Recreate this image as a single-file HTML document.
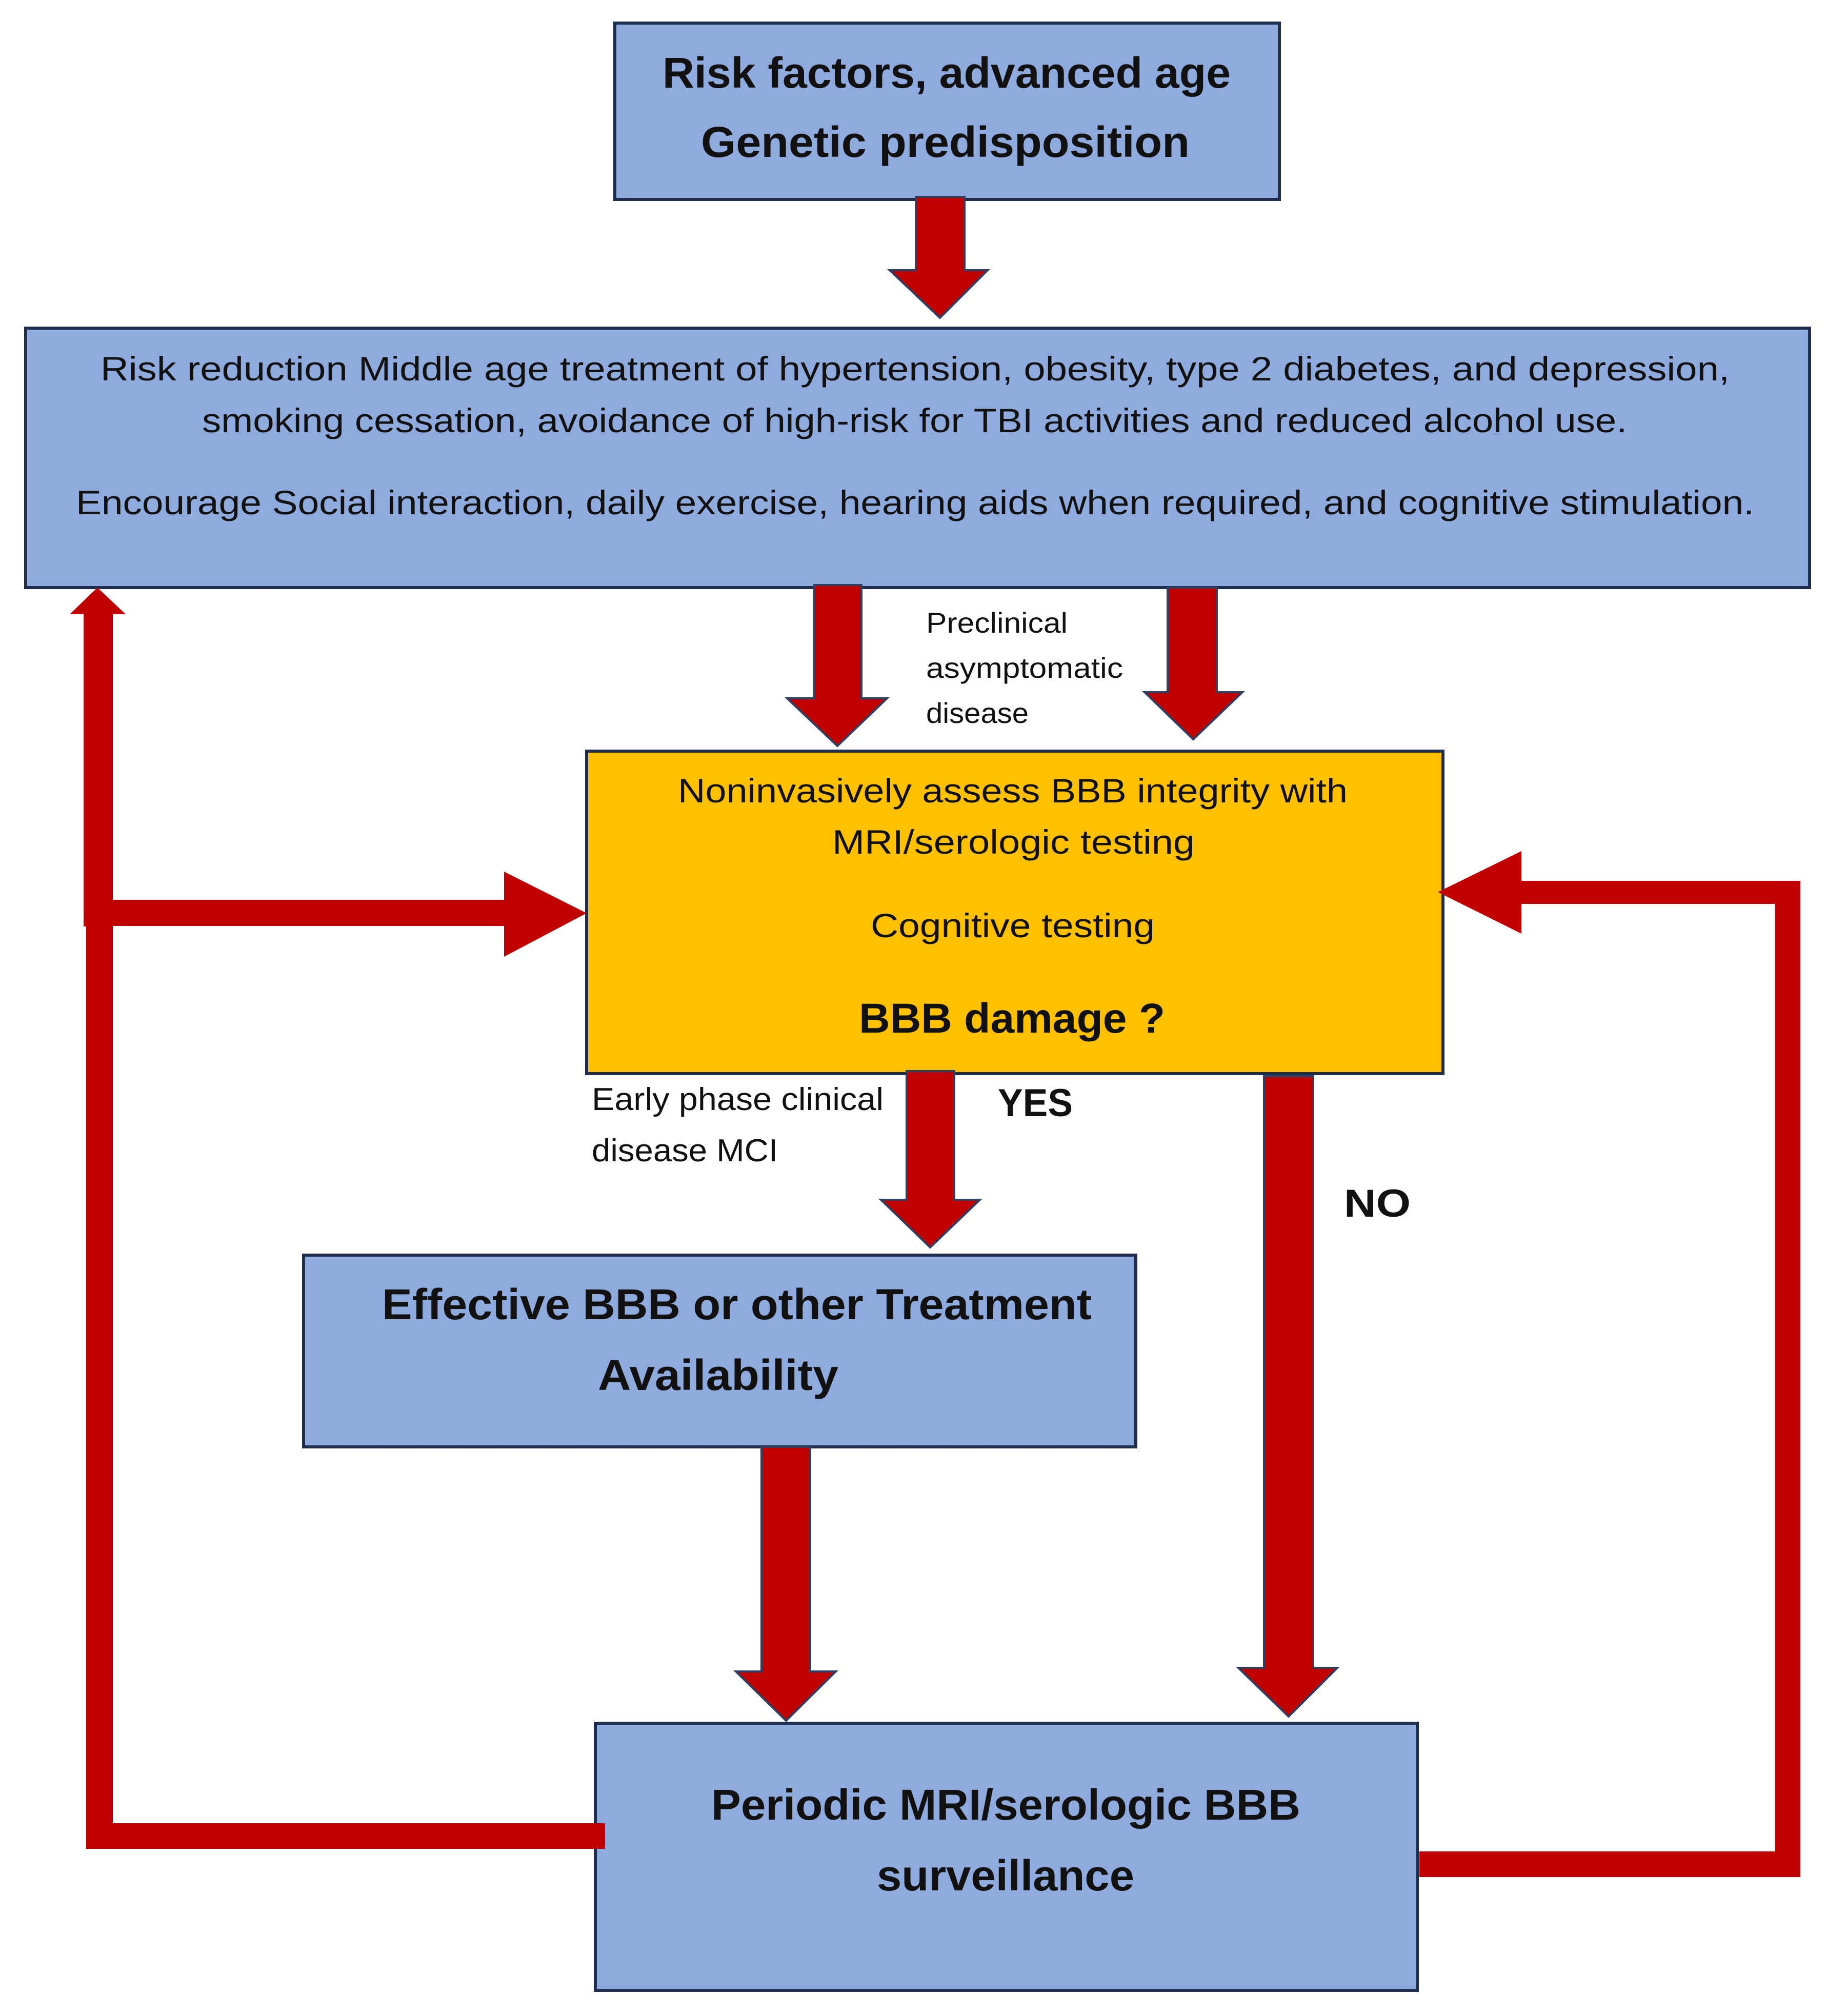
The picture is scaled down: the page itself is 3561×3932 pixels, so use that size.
<!DOCTYPE html>
<html><head><meta charset="utf-8"><style>html,body{margin:0;padding:0;background:#fff}svg{display:block}</style></head>
<body>
<svg width="3561" height="3932" viewBox="0 0 3561 3932" xmlns="http://www.w3.org/2000/svg" font-family="'Liberation Sans', sans-serif" fill="#111">
<rect width="3561" height="3932" fill="#fff"/>
<!-- Boxes -->
<rect x="1199" y="45" width="1296" height="344" fill="#8FAADC" stroke="#1F2D4F" stroke-width="6"/>
<rect x="50" y="640" width="3479" height="506" fill="#8FAADC" stroke="#1F2D4F" stroke-width="6"/>
<rect x="1144" y="1465" width="1670" height="629" fill="#FFC000" stroke="#1F2D4F" stroke-width="6"/>
<rect x="592" y="2448" width="1623" height="374" fill="#8FAADC" stroke="#1F2D4F" stroke-width="6"/>
<rect x="1161" y="3361" width="1603" height="521" fill="#8FAADC" stroke="#1F2D4F" stroke-width="6"/>

<!-- Block arrows -->
<g fill="#C00000" stroke="#2F3F5F" stroke-width="4">
<polygon points="1786,384 1881,384 1881,527 1926,527 1833,620 1735,527 1786,527"/>
<polygon points="1588,1141 1680,1141 1680,1362 1730,1362 1633,1455 1535,1362 1588,1362"/>
<polygon points="2277,1146 2373,1146 2373,1350 2423,1350 2327,1442 2232,1350 2277,1350"/>
<polygon points="1768,2089 1861,2089 1861,2340 1911,2340 1814,2433 1718,2340 1768,2340"/>
<polygon points="1485,2822 1580,2822 1580,3260 1630,3260 1533,3356 1435,3260 1485,3260"/>
<polygon points="2465,2099 2561,2099 2561,3253 2608,3253 2513,3348 2415,3253 2465,3253"/>
</g>

<!-- Left loop -->
<g fill="#C00000">
<rect x="168" y="3556" width="1012" height="50"/>
<rect x="168" y="1755" width="52" height="1851"/>
<rect x="163" y="1195" width="57" height="612"/>
<polygon points="136,1198 245,1198 190,1146"/>
<rect x="163" y="1755" width="822" height="51"/>
<polygon points="983,1700 1144,1781 983,1866"/>
</g>
<!-- Right loop -->
<g fill="#C00000">
<rect x="2768" y="3611" width="743" height="50"/>
<rect x="3461" y="1718" width="50" height="1943"/>
<rect x="2960" y="1718" width="551" height="45"/>
<polygon points="2967,1660 2967,1821 2804,1740"/>
</g>

<!-- Text -->
<g font-weight="bold" font-size="84">
<text x="1292" y="171" textLength="1108" lengthAdjust="spacingAndGlyphs">Risk factors, advanced age</text>
<text x="1367" y="306" textLength="953" lengthAdjust="spacingAndGlyphs">Genetic predisposition</text>
</g>
<g font-size="66">
<text x="196" y="742" textLength="3177" lengthAdjust="spacingAndGlyphs">Risk reduction  Middle age treatment of hypertension, obesity, type 2 diabetes, and depression,</text>
<text x="394" y="843" textLength="2779" lengthAdjust="spacingAndGlyphs">smoking cessation, avoidance of high-risk for TBI activities and reduced alcohol use.</text>
<text x="148" y="1003" textLength="3273" lengthAdjust="spacingAndGlyphs">Encourage Social interaction, daily exercise, hearing aids when required, and cognitive stimulation.</text>
</g>
<g font-size="56">
<text x="1806" y="1234" textLength="276" lengthAdjust="spacingAndGlyphs">Preclinical</text>
<text x="1806" y="1322" textLength="384" lengthAdjust="spacingAndGlyphs">asymptomatic</text>
<text x="1806" y="1410" textLength="200" lengthAdjust="spacingAndGlyphs">disease</text>
</g>
<g font-size="66">
<text x="1322" y="1565" textLength="1306" lengthAdjust="spacingAndGlyphs">Noninvasively assess BBB integrity with</text>
<text x="1623" y="1665" textLength="707" lengthAdjust="spacingAndGlyphs">MRI/serologic testing</text>
<text x="1698" y="1828" textLength="554" lengthAdjust="spacingAndGlyphs">Cognitive testing</text>
</g>
<text x="1675" y="2014" font-size="82" font-weight="bold" textLength="597" lengthAdjust="spacingAndGlyphs">BBB damage ?</text>
<g font-size="62">
<text x="1154" y="2165" textLength="569" lengthAdjust="spacingAndGlyphs">Early phase clinical</text>
<text x="1154" y="2265" textLength="363" lengthAdjust="spacingAndGlyphs">disease MCI</text>
</g>
<g font-weight="bold" font-size="76">
<text x="1946" y="2177" textLength="146" lengthAdjust="spacingAndGlyphs">YES</text>
<text x="2621" y="2373" textLength="130" lengthAdjust="spacingAndGlyphs">NO</text>
</g>
<g font-weight="bold" font-size="84">
<text x="745" y="2573" textLength="1384" lengthAdjust="spacingAndGlyphs">Effective BBB or other Treatment</text>
<text x="1166" y="2711" textLength="469" lengthAdjust="spacingAndGlyphs">Availability</text>
<text x="1387" y="3549" textLength="1149" lengthAdjust="spacingAndGlyphs">Periodic MRI/serologic BBB</text>
<text x="1710" y="3687" textLength="502" lengthAdjust="spacingAndGlyphs">surveillance</text>
</g>
</svg>
</body></html>
